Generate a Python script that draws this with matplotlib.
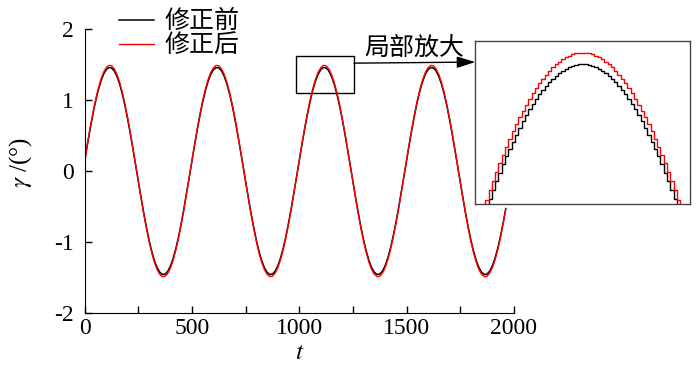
import matplotlib
matplotlib.use('Agg')
import matplotlib.pyplot as plt
import numpy as np
from matplotlib.patches import Rectangle

plt.rcParams['font.family'] = ['Liberation Serif', 'Noto Sans CJK SC']
plt.rcParams['mathtext.fontset'] = 'stix'

# main curves, one sample every dt
dt = 12.5
gamma_before = [
    0.147, 0.372, 0.588, 0.790, 0.973, 1.131, 1.261, 1.361, 1.427, 1.458, 1.453, 1.412, 1.336, 1.228, 1.089, 0.924, 0.735, 0.529, 0.310, 0.082,
    -0.147, -0.372, -0.588, -0.790, -0.973, -1.131, -1.261, -1.361, -1.427, -1.458, -1.453, -1.412, -1.336, -1.228, -1.089, -0.924, -0.735, -0.529, -0.310, -0.082,
    0.147, 0.372, 0.588, 0.790, 0.973, 1.131, 1.261, 1.361, 1.427, 1.458, 1.453, 1.412, 1.336, 1.228, 1.089, 0.924, 0.735, 0.529, 0.310, 0.082,
    -0.147, -0.372, -0.588, -0.790, -0.973, -1.131, -1.261, -1.361, -1.427, -1.458, -1.453, -1.412, -1.336, -1.228, -1.089, -0.924, -0.735, -0.529, -0.310, -0.082,
    0.147, 0.372, 0.588, 0.790, 0.973, 1.131, 1.261, 1.361, 1.427, 1.458, 1.453, 1.412, 1.336, 1.228, 1.089, 0.924, 0.735, 0.529, 0.310, 0.082,
    -0.147, -0.372, -0.588, -0.790, -0.973, -1.131, -1.261, -1.361, -1.427, -1.458, -1.453, -1.412, -1.336, -1.228, -1.089, -0.924, -0.735, -0.529, -0.310, -0.082,
    0.147, 0.372, 0.588, 0.790, 0.973, 1.131, 1.261, 1.361, 1.427, 1.458, 1.453, 1.412, 1.336, 1.228, 1.089, 0.924, 0.735, 0.529, 0.310, 0.082,
    -0.147, -0.372, -0.588, -0.790, -0.973, -1.131, -1.261, -1.361, -1.427, -1.458, -1.453, -1.412, -1.336, -1.228, -1.089, -0.924, -0.735, -0.529]

gamma_after = [
    0.150, 0.380, 0.600, 0.806, 0.992, 1.154, 1.287, 1.389, 1.456, 1.488, 1.483, 1.441, 1.364, 1.253, 1.112, 0.943, 0.750, 0.540, 0.316, 0.084,
    -0.150, -0.380, -0.600, -0.806, -0.992, -1.154, -1.287, -1.389, -1.456, -1.488, -1.483, -1.441, -1.364, -1.253, -1.112, -0.943, -0.750, -0.540, -0.316, -0.084,
    0.150, 0.380, 0.600, 0.806, 0.992, 1.154, 1.287, 1.389, 1.456, 1.488, 1.483, 1.441, 1.364, 1.253, 1.112, 0.943, 0.750, 0.540, 0.316, 0.084,
    -0.150, -0.380, -0.600, -0.806, -0.992, -1.154, -1.287, -1.389, -1.456, -1.488, -1.483, -1.441, -1.364, -1.253, -1.112, -0.943, -0.750, -0.540, -0.316, -0.084,
    0.150, 0.380, 0.600, 0.806, 0.992, 1.154, 1.287, 1.389, 1.456, 1.488, 1.483, 1.441, 1.364, 1.253, 1.112, 0.943, 0.750, 0.540, 0.316, 0.084,
    -0.150, -0.380, -0.600, -0.806, -0.992, -1.154, -1.287, -1.389, -1.456, -1.488, -1.483, -1.441, -1.364, -1.253, -1.112, -0.943, -0.750, -0.540, -0.316, -0.084,
    0.150, 0.380, 0.600, 0.806, 0.992, 1.154, 1.287, 1.389, 1.456, 1.488, 1.483, 1.441, 1.364, 1.253, 1.112, 0.943, 0.750, 0.540, 0.316, 0.084,
    -0.150, -0.380, -0.600, -0.806, -0.992, -1.154, -1.287, -1.389, -1.456, -1.488, -1.483, -1.441, -1.364, -1.253, -1.112, -0.943, -0.750, -0.540]

t = np.arange(len(gamma_before)) * dt

# zoomed part near the third peak, t = 1057 ... 1177 every 2 (stepped samples)
t_zoom_start, dt_zoom = 1057, 2
zoom_before = [
    1.064, 1.089, 1.113, 1.137, 1.159, 1.181, 1.202, 1.223, 1.243, 1.261, 1.279, 1.297, 1.313, 1.329, 1.344, 1.357,
    1.371, 1.383, 1.394, 1.405, 1.414, 1.423, 1.431, 1.437, 1.443, 1.448, 1.453, 1.456, 1.458, 1.460, 1.460,
    1.460, 1.458, 1.456, 1.453, 1.448, 1.443, 1.437, 1.431, 1.423, 1.414, 1.405, 1.394, 1.383, 1.371, 1.357,
    1.344, 1.329, 1.313, 1.297, 1.279, 1.261, 1.243, 1.223, 1.202, 1.181, 1.159, 1.137, 1.113, 1.089, 1.064]
zoom_after = [
    1.086, 1.111, 1.136, 1.160, 1.183, 1.205, 1.227, 1.248, 1.268, 1.287, 1.306, 1.323, 1.340, 1.356, 1.371, 1.385,
    1.399, 1.411, 1.423, 1.433, 1.443, 1.452, 1.460, 1.467, 1.473, 1.478, 1.482, 1.486, 1.488, 1.490, 1.490,
    1.490, 1.488, 1.486, 1.482, 1.478, 1.473, 1.467, 1.460, 1.452, 1.443, 1.433, 1.423, 1.411, 1.399, 1.385,
    1.371, 1.356, 1.340, 1.323, 1.306, 1.287, 1.268, 1.248, 1.227, 1.205, 1.183, 1.160, 1.136, 1.111, 1.086]
t_zoom = t_zoom_start + np.arange(len(zoom_before)) * dt_zoom

labels = ['修正前', '修正后']

fig = plt.figure(figsize=(7, 3.73), dpi=100)
ax = fig.add_axes([0.121, 0.161, 0.613, 0.761])

l1, = ax.plot(t, gamma_before, color='black', lw=1.1)
l2, = ax.plot(t, gamma_after, color='red', lw=1.0)

ax.set_xlim(0, 2000)
ax.set_ylim(-2, 2)
ax.set_xticks([0, 500, 1000, 1500, 2000])
ax.set_xticks([250, 750, 1250, 1750], minor=True)
ax.set_yticks([-2, -1, 0, 1, 2])
ax.set_yticklabels(['-2', '-1', '0', '1', '2'])
ax.tick_params(axis='both', which='both', direction='in', length=5, width=1, labelsize=17)
ax.tick_params(axis='y', pad=8)
ax.spines['top'].set_visible(False)
ax.spines['right'].set_visible(False)
ax.set_xlabel('$t$', fontsize=18, labelpad=2)
ax.set_ylabel(r'$\gamma$ /(°)', fontsize=18)
ax.yaxis.set_label_coords(-0.118, 0.53)

# box around the zoomed region
ax.add_patch(Rectangle((985, 1.10), 270, 0.52, fill=False, edgecolor='black', lw=1.0))

fig.legend([l1, l2], labels, loc='upper left', bbox_to_anchor=(0.138, 1.033), frameon=False,
           fontsize=18, handlelength=1.4, handletextpad=0.4, labelspacing=0.05)

# inset
axin = fig.add_axes([0.679, 0.453, 0.307, 0.437])
axin.plot(t_zoom, zoom_before, color='black', lw=1.0, drawstyle='steps-mid')
axin.plot(t_zoom, zoom_after, color='red', lw=1.0, drawstyle='steps-mid')
axin.set_xlim(1052, 1182)
axin.set_ylim(1.10, 1.52)
axin.set_xticks([])
axin.set_yticks([])
for s in axin.spines.values():
    s.set_color('#444444')
    s.set_linewidth(1.0)

ax.annotate('', xy=(0.0, 0.871), xycoords=axin.transAxes, xytext=(1255, 1.52), textcoords='data',
            arrowprops=dict(arrowstyle='-|>,head_length=0.8,head_width=0.25', color='black', lw=1.0,
                            mutation_scale=14, shrinkA=0, shrinkB=0))
ax.text(1538, 1.74, '局部放大', fontsize=18, ha='center', va='center')

plt.savefig('out.png', dpi=100)
